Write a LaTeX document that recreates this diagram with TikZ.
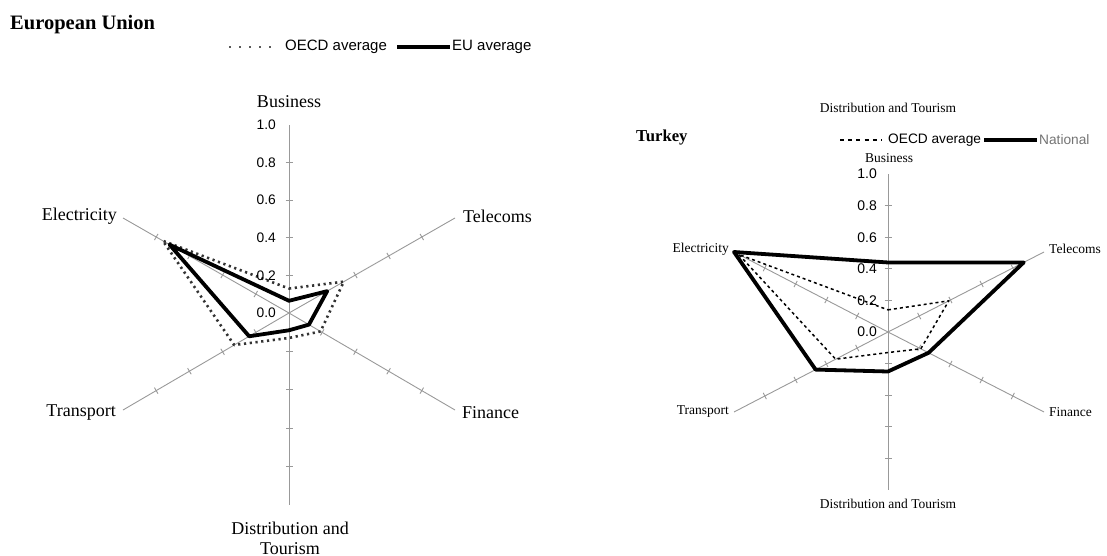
\documentclass[tikz,border=0pt]{standalone}
\usepackage{fontspec}
\setmainfont{Liberation Serif}
\setsansfont{Liberation Sans}
\usetikzlibrary{calc}
\begin{document}
\begin{tikzpicture}[x=1pt,y=-1pt,
  axisline/.style={draw=black!40, line width=0.9pt},
  natline/.style={draw=black, line width=3.8pt, line join=round},
  oecddot/.style={draw=black!80, line width=2.6pt, dash pattern=on 2.2pt off 3.6pt, line join=round},
  oecddash/.style={draw=black, line width=1.5pt, dash pattern=on 3pt off 3pt, line join=round},
  lablarge/.style={inner sep=0pt, font=\fontsize{18}{21}\selectfont, align=center},
  labsmall/.style={inner sep=0pt, font=\fontsize{13.5}{16}\selectfont},
  ticklarge/.style={inner sep=0pt, anchor=east, font=\sffamily\fontsize{13.8}{16}\selectfont},
  ticksmall/.style={inner sep=0pt, anchor=east, font=\sffamily\fontsize{14}{16}\selectfont},
  legtext/.style={inner sep=0pt, anchor=west, font=\sffamily\fontsize{15}{17}\selectfont},
  titletext/.style={inner sep=0pt, anchor=west, font=\bfseries}
]
\useasboundingbox (0,0) rectangle (1107,556);

%% ================= LEFT CHART =================
\node[titletext, font=\bfseries\fontsize{20.5}{24}\selectfont] (eutitle) at (10,25) {European Union};
\coordinate (la1) at (229,47); \coordinate (la2) at (278,47);
\draw[black!65, line width=2.4pt, dash pattern=on 2.2pt off 7.8pt] (la1) -- (la2);
\node[legtext] (laoecd) at (285,47) {OECD average};
\coordinate (lb1) at (397,47); \coordinate (lb2) at (450,47);
\draw[natline] (lb1) -- (lb2);
\node[legtext] (laeu) at (452,47) {EU average};

\coordinate (L0) at (289,313);
\coordinate (LB) at (289,125);
\coordinate (LT) at (455,218);
\coordinate (LF) at (455,410);
\coordinate (LD) at (289,505);
\coordinate (LR) at (123,410);
\coordinate (LE) at (123,218);

\foreach \e in {LB,LT,LF,LD,LR,LE}{
  \draw[axisline] (L0) -- (\e);
  \foreach \f in {0.2,0.4,0.6,0.8,1.0}{
    \draw[axisline] ($(L0)!\f!(\e)!3.5pt!90:(\e)$) -- ($(L0)!\f!(\e)!3.5pt!-90:(\e)$);
  }
}

% OECD average (dotted)
\coordinate (lo1) at ($(L0)!0.13!(LB)$);
\coordinate (lo2) at ($(L0)!0.33!(LT)$);
\coordinate (lo3) at ($(L0)!0.19!(LF)$);
\coordinate (lo4) at ($(L0)!0.13!(LD)$);
\coordinate (lo5) at ($(L0)!0.33!(LR)$);
\coordinate (lo6) at ($(L0)!0.76!(LE)$);
\draw[oecddot] (lo1) -- (lo2) -- (lo3) -- (lo4) -- (lo5) -- (lo6) -- cycle;

% EU average (thick)
\coordinate (le1) at ($(L0)!0.065!(LB)$);
\coordinate (le2) at ($(L0)!0.23!(LT)$);
\coordinate (le3) at ($(L0)!0.12!(LF)$);
\coordinate (le4) at ($(L0)!0.09!(LD)$);
\coordinate (le5) at ($(L0)!0.24!(LR)$);
\coordinate (le6) at ($(L0)!0.72!(LE)$);
\draw[natline] (le1) -- (le2) -- (le3) -- (le4) -- (le5) -- (le6) -- cycle;

\node[ticklarge] (lt10) at (276,125) {1.0};
\node[ticklarge] (lt08) at (276,162.6) {0.8};
\node[ticklarge] (lt06) at (276,200.2) {0.6};
\node[ticklarge] (lt04) at (276,237.8) {0.4};
\node[ticklarge] (lt02) at (276,275.4) {0.2};
\node[ticklarge] (lt00) at (276,313) {0.0};

\node[lablarge] (lbus) at (289,102) {Business};
\node[lablarge, anchor=east] (lele) at (117,216) {Electricity};
\node[lablarge, anchor=west] (ltel) at (463,216) {Telecoms};
\node[lablarge, anchor=east] (ltra) at (116,413) {Transport};
\node[lablarge, anchor=west] (lfin) at (462,413) {Finance};
\node[lablarge] (ldis) at (290,538) {Distribution and\\[-1pt]Tourism};

%% ================= RIGHT CHART =================
\node[labsmall] (rtop) at (888,108) {Distribution and Tourism};
\node[titletext, font=\bfseries\fontsize{16.7}{20}\selectfont] (trtitle) at (636,138) {Turkey};
\coordinate (ra1) at (840,140); \coordinate (ra2) at (882,140);
\draw[black, line width=1.3pt, dash pattern=on 4pt off 4.2pt] (ra1) -- (ra2);
\node[legtext, font=\sffamily\fontsize{13.7}{16}\selectfont] (raoecd) at (888,140) {OECD average};
\coordinate (rb1) at (984,140); \coordinate (rb2) at (1037,140);
\draw[natline] (rb1) -- (rb2);
\node[legtext, font=\sffamily\fontsize{13.7}{16}\selectfont, text=black!55] (ranat) at (1039,140) {National};

\coordinate (R0) at (888,332);
\coordinate (RB) at (888,174);
\coordinate (RT) at (1044,252);
\coordinate (RF) at (1044,412);
\coordinate (RD) at (888,490);
\coordinate (RR) at (734,412);
\coordinate (RE) at (734,252);

\foreach \e in {RB,RT,RF,RD,RR,RE}{
  \draw[axisline] (R0) -- (\e);
  \foreach \f in {0.2,0.4,0.6,0.8,1.0}{
    \draw[axisline] ($(R0)!\f!(\e)!3.5pt!90:(\e)$) -- ($(R0)!\f!(\e)!3.5pt!-90:(\e)$);
  }
}

% OECD average (dashed)
\coordinate (ro1) at ($(R0)!0.14!(RB)$);
\coordinate (ro2) at ($(R0)!0.39!(RT)$);
\coordinate (ro3) at ($(R0)!0.21!(RF)$);
\coordinate (ro4) at ($(R0)!0.13!(RD)$);
\coordinate (ro5) at ($(R0)!0.34!(RR)$);
\coordinate (ro6) at ($(R0)!0.97!(RE)$);
\draw[oecddash] (ro1) -- (ro2) -- (ro3) -- (ro4) -- (ro5) -- (ro6) -- cycle;

% National (thick)
\coordinate (rn1) at ($(R0)!0.44!(RB)$);
\coordinate (rn2) at ($(R0)!0.87!(RT)$);
\coordinate (rn3) at ($(R0)!0.26!(RF)$);
\coordinate (rn4) at ($(R0)!0.25!(RD)$);
\coordinate (rn5) at ($(R0)!0.47!(RR)$);
\coordinate (rn6) at ($(R0)!1.0!(RE)$);
\draw[natline] (rn1) -- (rn2) -- (rn3) -- (rn4) -- (rn5) -- (rn6) -- cycle;

\node[ticksmall] (rt10) at (877,174) {1.0};
\node[ticksmall] (rt08) at (877,205.6) {0.8};
\node[ticksmall] (rt06) at (877,237.2) {0.6};
\node[ticksmall] (rt04) at (877,268.8) {0.4};
\node[ticksmall] (rt02) at (877,300.4) {0.2};
\node[ticksmall] (rt00) at (877,332) {0.0};

\node[labsmall] (rbus) at (889,158) {Business};
\node[labsmall, anchor=east] (rele) at (729,249) {Electricity};
\node[labsmall, anchor=west] (rtel) at (1049,249) {Telecoms};
\node[labsmall, anchor=east] (rtra) at (729,412) {Transport};
\node[labsmall, anchor=west] (rfin) at (1049,412) {Finance};
\node[labsmall] (rdis) at (888,504) {Distribution and Tourism};
\end{tikzpicture}
\end{document}
